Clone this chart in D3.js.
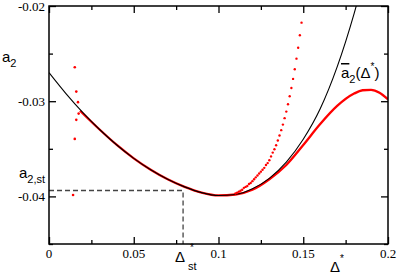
<!DOCTYPE html>
<meta charset="utf-8">
<style>
body { margin: 0; background: #fff; }
svg { display: block; }
.tick-label { font-family: "Liberation Serif", "DejaVu Serif", serif; font-size: 13px; fill: #000; }
.sans { font-family: "Liberation Sans", Arial, sans-serif; fill: #000; }
</style>
<svg width="399" height="274"></svg>
<script src="https://d3js.org/d3.v7.min.js"></script>
<script>

// fitted curve a2bar(delta*)
var blackD = [0, 0.01, 0.02, 0.03, 0.04, 0.05, 0.06, 0.07, 0.08, 0.09, 0.10, 0.11, 0.12, 0.13, 0.14, 0.15, 0.16, 0.17, 0.18, 0.19];
var blackA = [-0.0270, -0.0292, -0.0312, -0.0330, -0.0346, -0.0360, -0.0372, -0.0382, -0.0390, -0.0396, -0.0399, -0.0398, -0.0392, -0.0381, -0.0364, -0.0340, -0.0308, -0.0264, -0.0208, -0.0140];

// dense red data
var redD = [0.0183, 0.03, 0.04, 0.05, 0.06, 0.07, 0.08, 0.09, 0.10, 0.11, 0.12, 0.13, 0.14, 0.15, 0.16, 0.17, 0.18, 0.185, 0.19, 0.195, 0.2];
var redA = [-0.0310, -0.0330, -0.0346, -0.0360, -0.0372, -0.0382, -0.0390, -0.0396, -0.0399, -0.0398, -0.0393, -0.0382, -0.0367, -0.0346, -0.0324, -0.0305, -0.0292, -0.02885, -0.0288, -0.0291, -0.0298];

// sparse red dots going up
var dotD = [0.110, 0.111, 0.112, 0.113, 0.114, 0.115, 0.116, 0.117, 0.118, 0.119, 0.120, 0.121, 0.122, 0.123, 0.124, 0.125, 0.126, 0.127, 0.128, 0.129, 0.130, 0.131, 0.132, 0.133, 0.134, 0.135, 0.136, 0.137, 0.138, 0.139, 0.140, 0.141, 0.142, 0.143, 0.144, 0.145, 0.146, 0.147, 0.148, 0.149];
var dotA = [-0.0397, -0.0396, -0.0395, -0.0394, -0.0393, -0.0391, -0.0390, -0.0389, -0.0387, -0.0386, -0.0384, -0.0382, -0.0380, -0.0378, -0.0376, -0.0374, -0.0372, -0.0370, -0.0367, -0.0365, -0.0362, -0.0358, -0.0354, -0.03504, -0.03462, -0.03413, -0.03361, -0.03304, -0.03246, -0.03178, -0.03109, -0.03032, -0.02948, -0.02861, -0.02766, -0.02664, -0.02553, -0.02438, -0.02307, -0.02175];

// scattered points at small delta*
var scatD = [0.0152, 0.0161, 0.0171, 0.0175, 0.0161, 0.0152, 0.0142];
var scatA = [-0.02643, -0.02899, -0.03010, -0.03130, -0.03196, -0.03396, -0.03986];

var a2st = -0.03938, dst = 0.0791;

var xTicks = [0, 0.05, 0.1, 0.15, 0.2];
var xTickLabels = ["0", "0.05", "0.1", "0.15", "0.2"];
var xMinor = [0.025, 0.075, 0.125, 0.175];
var yTicks = [-0.04, -0.03, -0.02];
var yTickLabels = ["-0.04", "-0.03", "-0.02"];
var yMinor = [-0.045, -0.035, -0.025];

var svg = d3.select("svg");
var x = d3.scaleLinear().domain([0, 0.2]).range([49, 388]);
var y = d3.scaleLinear().domain([-0.045, -0.02]).range([244, 6]);

svg.append("defs").append("clipPath").attr("id", "clip")
  .append("rect")
  .attr("x", x(0)).attr("y", y(-0.02))
  .attr("width", x(0.2) - x(0)).attr("height", y(-0.045) - y(-0.02));

var plot = svg.append("g").attr("clip-path", "url(#clip)");

// dashed guide
plot.append("path")
  .attr("d", "M" + x(0) + "," + y(a2st) + "H" + x(dst) + "V" + y(-0.045))
  .attr("fill", "none")
  .attr("stroke", "#444")
  .attr("stroke-width", 1.3)
  .attr("stroke-dasharray", "5,3");

var line = d3.line().curve(d3.curveMonotoneX)
  .x(function(d) { return x(d[0]); })
  .y(function(d) { return y(d[1]); });

plot.append("path")
  .datum(d3.zip(redD, redA))
  .attr("d", line)
  .attr("fill", "none")
  .attr("stroke", "#ff0000")
  .attr("stroke-width", 2.3);

plot.append("path")
  .datum(d3.zip(blackD, blackA))
  .attr("d", line)
  .attr("fill", "none")
  .attr("stroke", "#000")
  .attr("stroke-width", 1.1);

plot.selectAll("circle.dot")
  .data(d3.zip(dotD, dotA))
  .enter().append("circle")
  .attr("class", "dot")
  .attr("cx", function(d) { return x(d[0]); })
  .attr("cy", function(d) { return y(d[1]); })
  .attr("r", 1.2)
  .attr("fill", "#ff0000");

plot.selectAll("circle.scat")
  .data(d3.zip(scatD, scatA))
  .enter().append("circle")
  .attr("class", "scat")
  .attr("cx", function(d) { return x(d[0]); })
  .attr("cy", function(d) { return y(d[1]); })
  .attr("r", 1.3)
  .attr("fill", "#ff0000");

// axes: ticks inside on all sides
function axisPair(axisFn, scale, major, minor, pos) {
  var gMaj = svg.append("g").attr("transform", pos)
    .call(axisFn(scale).tickValues(major).tickSizeInner(-7).tickSizeOuter(0).tickFormat(""));
  var gMin = svg.append("g").attr("transform", pos)
    .call(axisFn(scale).tickValues(minor).tickSizeInner(-4).tickSizeOuter(0).tickFormat(""));
  [gMaj, gMin].forEach(function(g) {
    g.select(".domain").remove();
    g.selectAll("line").attr("stroke", "#000").attr("stroke-width", 1.3);
  });
}
axisPair(d3.axisBottom, x, xTicks, xMinor, "translate(0," + y(-0.045) + ")");
axisPair(d3.axisTop, x, xTicks, xMinor, "translate(0," + y(-0.02) + ")");
axisPair(d3.axisLeft, y, yTicks, yMinor, "translate(" + x(0) + ",0)");
axisPair(d3.axisRight, y, yTicks, yMinor, "translate(" + x(0.2) + ",0)");

svg.append("rect")
  .attr("x", x(0)).attr("y", y(-0.02))
  .attr("width", x(0.2) - x(0)).attr("height", y(-0.045) - y(-0.02))
  .attr("fill", "none").attr("stroke", "#000").attr("stroke-width", 1.5);

// tick labels
svg.selectAll("text.xl").data(xTicks).enter().append("text")
  .attr("class", "tick-label")
  .attr("x", function(d) { return x(d); })
  .attr("y", 258)
  .attr("text-anchor", "middle")
  .text(function(d, i) { return xTickLabels[i]; });

svg.selectAll("text.yl").data(yTicks).enter().append("text")
  .attr("class", "tick-label")
  .attr("x", 45)
  .attr("y", function(d) { return y(d) + 4.5; })
  .attr("text-anchor", "end")
  .text(function(d, i) { return yTickLabels[i]; });

// labels
var ya = svg.append("text").attr("class", "sans").attr("x", 2).attr("y", 62).style("font-size", "15px");
ya.append("tspan").text("a");
ya.append("tspan").attr("dy", 5).style("font-size", "11px").text("2");

var yst = svg.append("text").attr("class", "sans").attr("x", 19).attr("y", 178).style("font-size", "15px");
yst.append("tspan").text("a");
yst.append("tspan").attr("dy", 5).style("font-size", "11px").text("2,st");

var xst = svg.append("text").attr("class", "sans").attr("x", 175).attr("y", 262).style("font-size", "15px");
xst.append("tspan").text("\u0394");
xst.append("tspan").attr("x", 190).attr("dy", -11).style("font-size", "10px").text("*");
xst.append("tspan").attr("x", 188).attr("dy", 19).style("font-size", "11px").text("st");

var xt = svg.append("text").attr("class", "sans").attr("x", 330).attr("y", 272).style("font-size", "15px");
xt.append("tspan").text("\u0394");
xt.append("tspan").attr("dy", -10).style("font-size", "10px").text("*");

var ab = svg.append("text").attr("class", "sans").attr("x", 341).attr("y", 78).style("font-size", "15px");
ab.append("tspan").style("text-decoration", "overline").text("a");
ab.append("tspan").attr("dy", 5).style("font-size", "11px").text("2");
ab.append("tspan").attr("dy", -5).text("(\u0394");
ab.append("tspan").attr("dy", -8).style("font-size", "10px").text("*");
ab.append("tspan").attr("dy", 8).text(")");

</script>
